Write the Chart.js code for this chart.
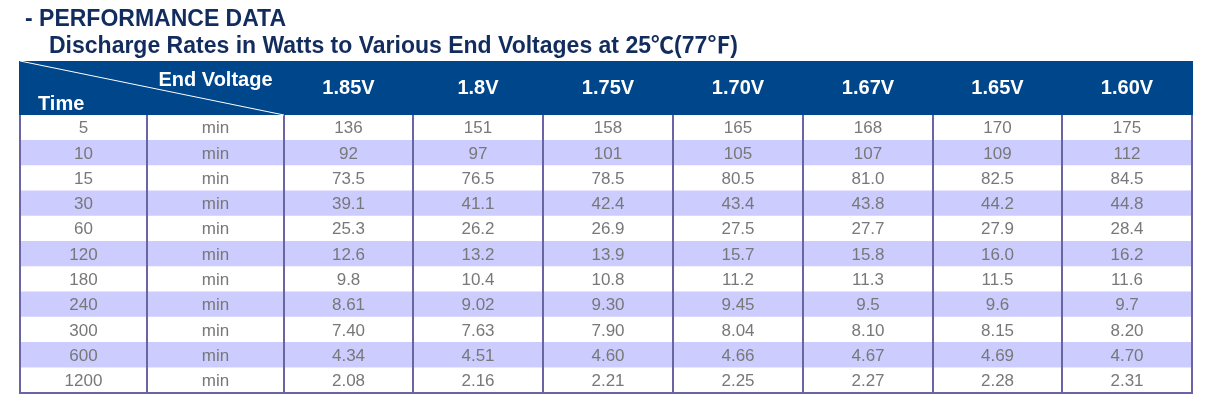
<!DOCTYPE html>
<html>
<head>
<meta charset="utf-8">
<script src="https://cdn.jsdelivr.net/npm/chart.js@4.4.0/dist/chart.umd.min.js"></script>
<style>
  html, body { margin: 0; padding: 0; background: #fff; }
</style>
</head>
<body>
<canvas id="table" width="1217" height="418"></canvas>
<script>
const times = ['5', '10', '15', '30', '60', '120', '180', '240', '300', '600', '1200'];
const voltages = ['1.85V', '1.8V', '1.75V', '1.70V', '1.67V', '1.65V', '1.60V'];

const w185 = ['136', '92', '73.5', '39.1', '25.3', '12.6', '9.8', '8.61', '7.40', '4.34', '2.08'];
const w180 = ['151', '97', '76.5', '41.1', '26.2', '13.2', '10.4', '9.02', '7.63', '4.51', '2.16'];
const w175 = ['158', '101', '78.5', '42.4', '26.9', '13.9', '10.8', '9.30', '7.90', '4.60', '2.21'];
const w170 = ['165', '105', '80.5', '43.4', '27.5', '15.7', '11.2', '9.45', '8.04', '4.66', '2.25'];
const w167 = ['168', '107', '81.0', '43.8', '27.7', '15.8', '11.3', '9.5', '8.10', '4.67', '2.27'];
const w165 = ['170', '109', '82.5', '44.2', '27.9', '16.0', '11.5', '9.6', '8.15', '4.69', '2.28'];
const w160 = ['175', '112', '84.5', '44.8', '28.4', '16.2', '11.6', '9.7', '8.20', '4.70', '2.31'];

const watts = [w185, w180, w175, w170, w167, w165, w160];

// relative column widths: Time, unit, then one per end voltage
const colWidths = [127, 137, 129, 130, 130, 130, 130, 129, 130];
const colEdges = colWidths.reduce((acc, w) => { acc.push(acc[acc.length - 1] + w); return acc; }, [0]);
const total = colEdges[colEdges.length - 1];

const COLORS = {
  header: '#00468b',
  stripe: '#ccccff',
  line: '#6b64a4',
  cellText: '#787878',
  title: '#122c5e'
};
const FONT = '"Liberation Sans", Arial, "Noto Sans CJK SC", sans-serif';

const colCenter = (x, i) => x.getPixelForValue((colEdges[i] + colEdges[i + 1]) / 2);

const tablePlugin = {
  id: 'tableText',
  afterDraw(chart) {
    const { ctx, chartArea } = chart;
    const x = chart.scales.x;
    const y = chart.scales.y;
    const left = x.getPixelForValue(0);
    const right = x.getPixelForValue(total);
    const headTop = 61;
    ctx.save();

    // titles
    ctx.fillStyle = COLORS.title;
    ctx.textAlign = 'left';
    ctx.textBaseline = 'alphabetic';
    ctx.font = 'bold 23px ' + FONT;
    ctx.fillText('- PERFORMANCE DATA', 25, 26);
    ctx.fillText('Discharge Rates in Watts to Various End Voltages at 25\u2103(77\u2109)', 49, 53);

    // header band
    ctx.fillStyle = COLORS.header;
    ctx.fillRect(left - 1, headTop, right - left + 2, chartArea.top - headTop);
    ctx.strokeStyle = '#ffffff';
    ctx.lineWidth = 1;
    ctx.beginPath();
    ctx.moveTo(left, headTop);
    ctx.lineTo(x.getPixelForValue(colEdges[2]), chartArea.top);
    ctx.stroke();

    ctx.fillStyle = '#ffffff';
    ctx.font = 'bold 20px ' + FONT;
    ctx.textBaseline = 'middle';
    ctx.textAlign = 'left';
    ctx.fillText('Time', 38, 104);
    ctx.textAlign = 'center';
    ctx.fillText('End Voltage', colCenter(x, 1), 80);
    voltages.forEach((v, i) => ctx.fillText(v, colCenter(x, i + 2), 88));

    // body cells
    ctx.fillStyle = COLORS.cellText;
    ctx.font = '17px ' + FONT;
    times.forEach((t, r) => {
      const py = y.getPixelForValue(r) + 1;
      ctx.fillText(t, colCenter(x, 0), py);
      ctx.fillText('min', colCenter(x, 1), py);
      watts.forEach((col, c) => ctx.fillText(col[r], colCenter(x, c + 2), py));
    });
    ctx.restore();
  }
};

new Chart(document.getElementById('table'), {
  type: 'bar',
  data: {
    labels: times,
    datasets: [{
      data: times.map(() => [0, total]),
      backgroundColor: times.map((t, i) => i % 2 ? COLORS.stripe : '#ffffff'),
      borderWidth: 0,
      barPercentage: 1,
      categoryPercentage: 1
    }]
  },
  options: {
    indexAxis: 'y',
    responsive: false,
    animation: false,
    layout: { padding: { left: 20, right: 25, top: 115, bottom: 25 } },
    plugins: {
      legend: { display: false },
      tooltip: { enabled: false }
    },
    scales: {
      x: {
        type: 'linear',
        min: 0,
        max: total,
        afterBuildTicks: (scale) => { scale.ticks = colEdges.map(v => ({ value: v })); },
        ticks: { display: false },
        grid: { color: COLORS.line, lineWidth: 2, drawTicks: false, z: 1 },
        border: { display: true, color: COLORS.line, width: 2, z: 1 }
      },
      y: {
        display: false
      }
    }
  },
  plugins: [tablePlugin]
});
</script>
</body>
</html>
